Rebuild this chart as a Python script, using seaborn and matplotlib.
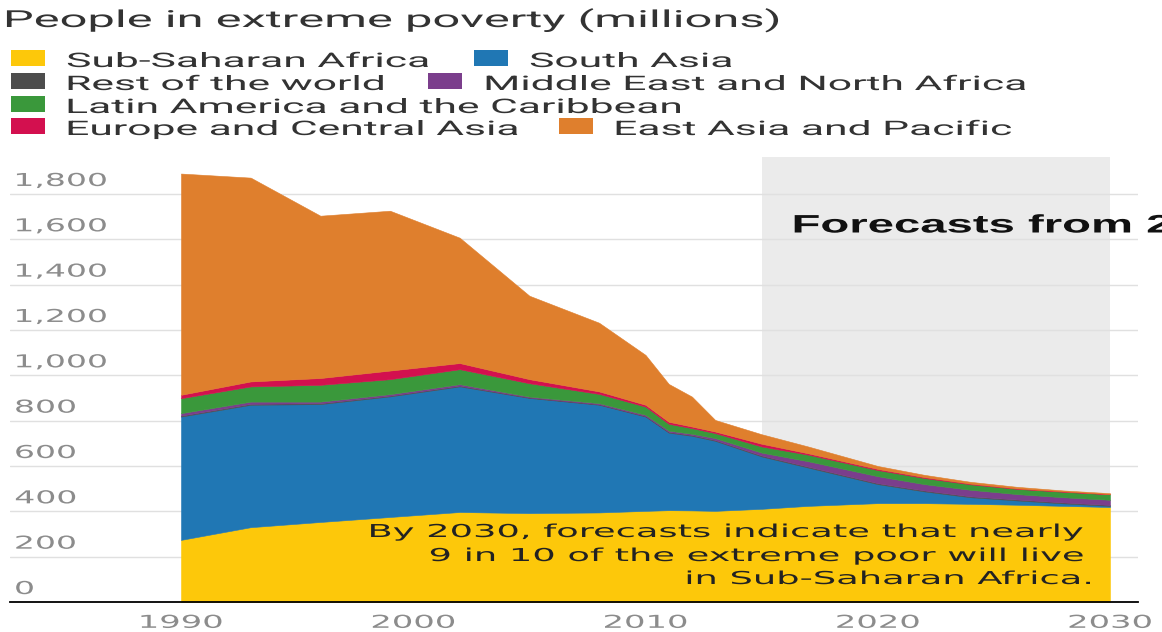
import matplotlib
matplotlib.use("Agg")
import matplotlib.pyplot as plt
import seaborn as sns
import pandas as pd
from matplotlib.patheffects import AbstractPathEffect
from matplotlib.transforms import Affine2D, offset_copy
from matplotlib.patches import Rectangle

# ---------------- data (millions of people) ----------------
years = [1990, 1993, 1996, 1999, 2002, 2005, 2008, 2010, 2011, 2012, 2013,
         2015, 2017, 2020, 2022, 2024, 2026, 2028, 2030]
sub_saharan_africa = [274, 330, 353, 375, 397, 392, 395, 402, 405, 404, 402,
                      411, 424, 436, 436, 433, 429, 424, 419]
south_asia = [544, 540, 520, 532, 554, 508, 475, 416, 342, 329, 309,
              231, 169, 84, 52, 29, 19, 11, 5]
rest_of_world = [4, 4, 4, 3, 3, 2, 2, 2, 3, 3, 3,
                 4, 4, 4, 4, 4, 4, 4, 4]
middle_east_north_africa = [11, 10, 7, 7, 7, 4, 5, 6, 6, 6, 9,
                            13, 24, 31, 28, 29, 24, 23, 23]
latin_america_caribbean = [66, 67, 74, 66, 66, 59, 41, 36, 30, 25, 22,
                           27, 29, 27, 27, 24, 23, 24, 24]
europe_central_asia = [15, 22, 30, 38, 27, 18, 11, 8, 9, 7, 7,
                       12, 6, 5, 4, 3, 2, 2, 1]
east_asia_pacific = [976, 899, 716, 705, 553, 368, 303, 220, 167, 132, 51,
                     42, 30, 13, 10, 8, 7, 4, 4]

region_names = ["Sub-Saharan Africa", "South Asia", "Rest of the world",
                "Middle East and North Africa", "Latin America and the Caribbean",
                "Europe and Central Asia", "East Asia and Pacific"]
region_colors = ["#FDC80A", "#2077B4", "#4D4D4D", "#7B3E8C", "#3A983B",
                 "#D3104F", "#DF7F2D"]
y_ticks = [0, 200, 400, 600, 800, 1000, 1200, 1400, 1600, 1800]
x_ticks = [1990, 2000, 2010, 2020, 2030]
forecast_start, forecast_end = 2015, 2030
title = "People in extreme poverty (millions)"
forecast_label = "Forecasts from 2015"
note_lines = ["By 2030, forecasts indicate that nearly",
              "9 in 10 of the extreme poor will live",
              "in Sub-Saharan Africa."]

df = pd.DataFrame({"year": years,
                   region_names[0]: sub_saharan_africa,
                   region_names[1]: south_asia,
                   region_names[2]: rest_of_world,
                   region_names[3]: middle_east_north_africa,
                   region_names[4]: latin_america_caribbean,
                   region_names[5]: europe_central_asia,
                   region_names[6]: east_asia_pacific})


# ---------------- horizontal text stretch (reference is widened) ----------------
class HStretch(AbstractPathEffect):
    def __init__(self, sx, align="left"):
        super().__init__()
        self.sx = sx
        self.align = align

    def draw_path(self, renderer, gc, tpath, affine, rgbFace=None):
        ext = tpath.get_extents(affine)
        cx = {"left": ext.x0, "center": 0.5 * (ext.x0 + ext.x1),
              "right": ext.x1}[self.align]
        st = Affine2D().translate(-cx, 0).scale(self.sx, 1).translate(cx, 0)
        renderer.draw_path(gc, tpath, affine + st, rgbFace)


sns.set_theme(style="white")
plt.rcParams["font.family"] = ["DejaVu Sans"]

W, H = 1162, 632
fig = plt.figure(figsize=(W / 100, H / 100), dpi=100)
fig.patch.set_facecolor("white")


def fx(px):
    return px / W


def fy(py):
    return 1 - py / H


ax_left, ax_right, ax_top, ax_bottom = 10, 1138, 157, 602
ax = fig.add_axes([fx(ax_left), fy(ax_bottom), (ax_right - ax_left) / W,
                   (ax_bottom - ax_top) / H])
ax.set_facecolor("white")

px_per_year = (1110 - 181) / 40.0
ax.set_xlim(1990 - (181 - ax_left) / px_per_year,
            2030 + (ax_right - 1110) / px_per_year)
ax.set_ylim(0, 1963)

ax.axvspan(forecast_start, forecast_end, color="#EBEBEB", lw=0, zorder=0)
for v in y_ticks[1:]:
    ax.axhline(v, color="#E0E0E0", lw=1.0, zorder=1)

ax.stackplot(df["year"], *[df[n] for n in region_names], colors=region_colors,
             linewidth=0.4, edgecolor="face", zorder=2)

for s in ["left", "right", "top"]:
    ax.spines[s].set_visible(False)
ax.spines["bottom"].set_color("black")
ax.spines["bottom"].set_linewidth(1.3)
ax.spines["bottom"].set_zorder(5)

ax.set_yticks([])
ax.set_xticks(x_ticks)
ax.set_xticklabels([str(x) for x in x_ticks])
ax.tick_params(axis="x", length=0, pad=8.5, labelsize=12.8, labelcolor="#8C8C8C")
for lab in ax.get_xticklabels():
    lab.set_path_effects([HStretch(1.9, "center")])
ax.grid(False)

ytrans = offset_copy(ax.get_yaxis_transform(), fig=fig, x=0, y=8, units="dots")
for v in y_ticks:
    ax.text(5 / (ax_right - ax_left), v, f"{v:,}", transform=ytrans, ha="left",
            va="baseline", fontsize=12.8, color="#8C8C8C", zorder=6,
            path_effects=[HStretch(1.86, "left")])

# forecast label (runs off the right edge like the reference)
fig.text(fx(793), fy(232.5), forecast_label, fontsize=18.2,
         family=["Liberation Sans", "DejaVu Sans"], fontweight="bold",
         color="#111111", ha="left", va="baseline",
         path_effects=[HStretch(1.87, "left")])

# note
note_right = [1083, 1083, 1092]
note_base = [537, 561, 584]
for line, xr, yb in zip(note_lines, note_right, note_base):
    fig.text(fx(xr), fy(yb), line, fontsize=12.8, color="#222222", ha="right",
             va="baseline", path_effects=[HStretch(2.07, "right")])

# title
fig.text(fx(5), fy(27), title, fontsize=16.9, family=["Roboto", "DejaVu Sans"],
         color="#333333", ha="left", va="baseline",
         path_effects=[HStretch(2.08, "left")])

# legend (flow layout like the reference)
legend_layout = [  # (region index, marker x, text x, baseline y)
    (0, 11, 67, 67), (1, 474, 530, 67),
    (2, 11, 67, 90), (3, 428, 485, 90),
    (4, 11, 67, 113),
    (5, 11, 67, 135), (6, 559, 615, 135),
]
for idx, mx, tx, by in legend_layout:
    fig.add_artist(Rectangle((fx(mx), fy(by - 1)), 34 / W, 16 / H,
                             transform=fig.transFigure,
                             facecolor=region_colors[idx], edgecolor="none"))
    fig.text(fx(tx), fy(by), region_names[idx], fontsize=14.4,
             family=["Roboto", "DejaVu Sans"], color="#333333", ha="left",
             va="baseline", path_effects=[HStretch(2.13, "left")])

fig.savefig("out.png", dpi=100)
